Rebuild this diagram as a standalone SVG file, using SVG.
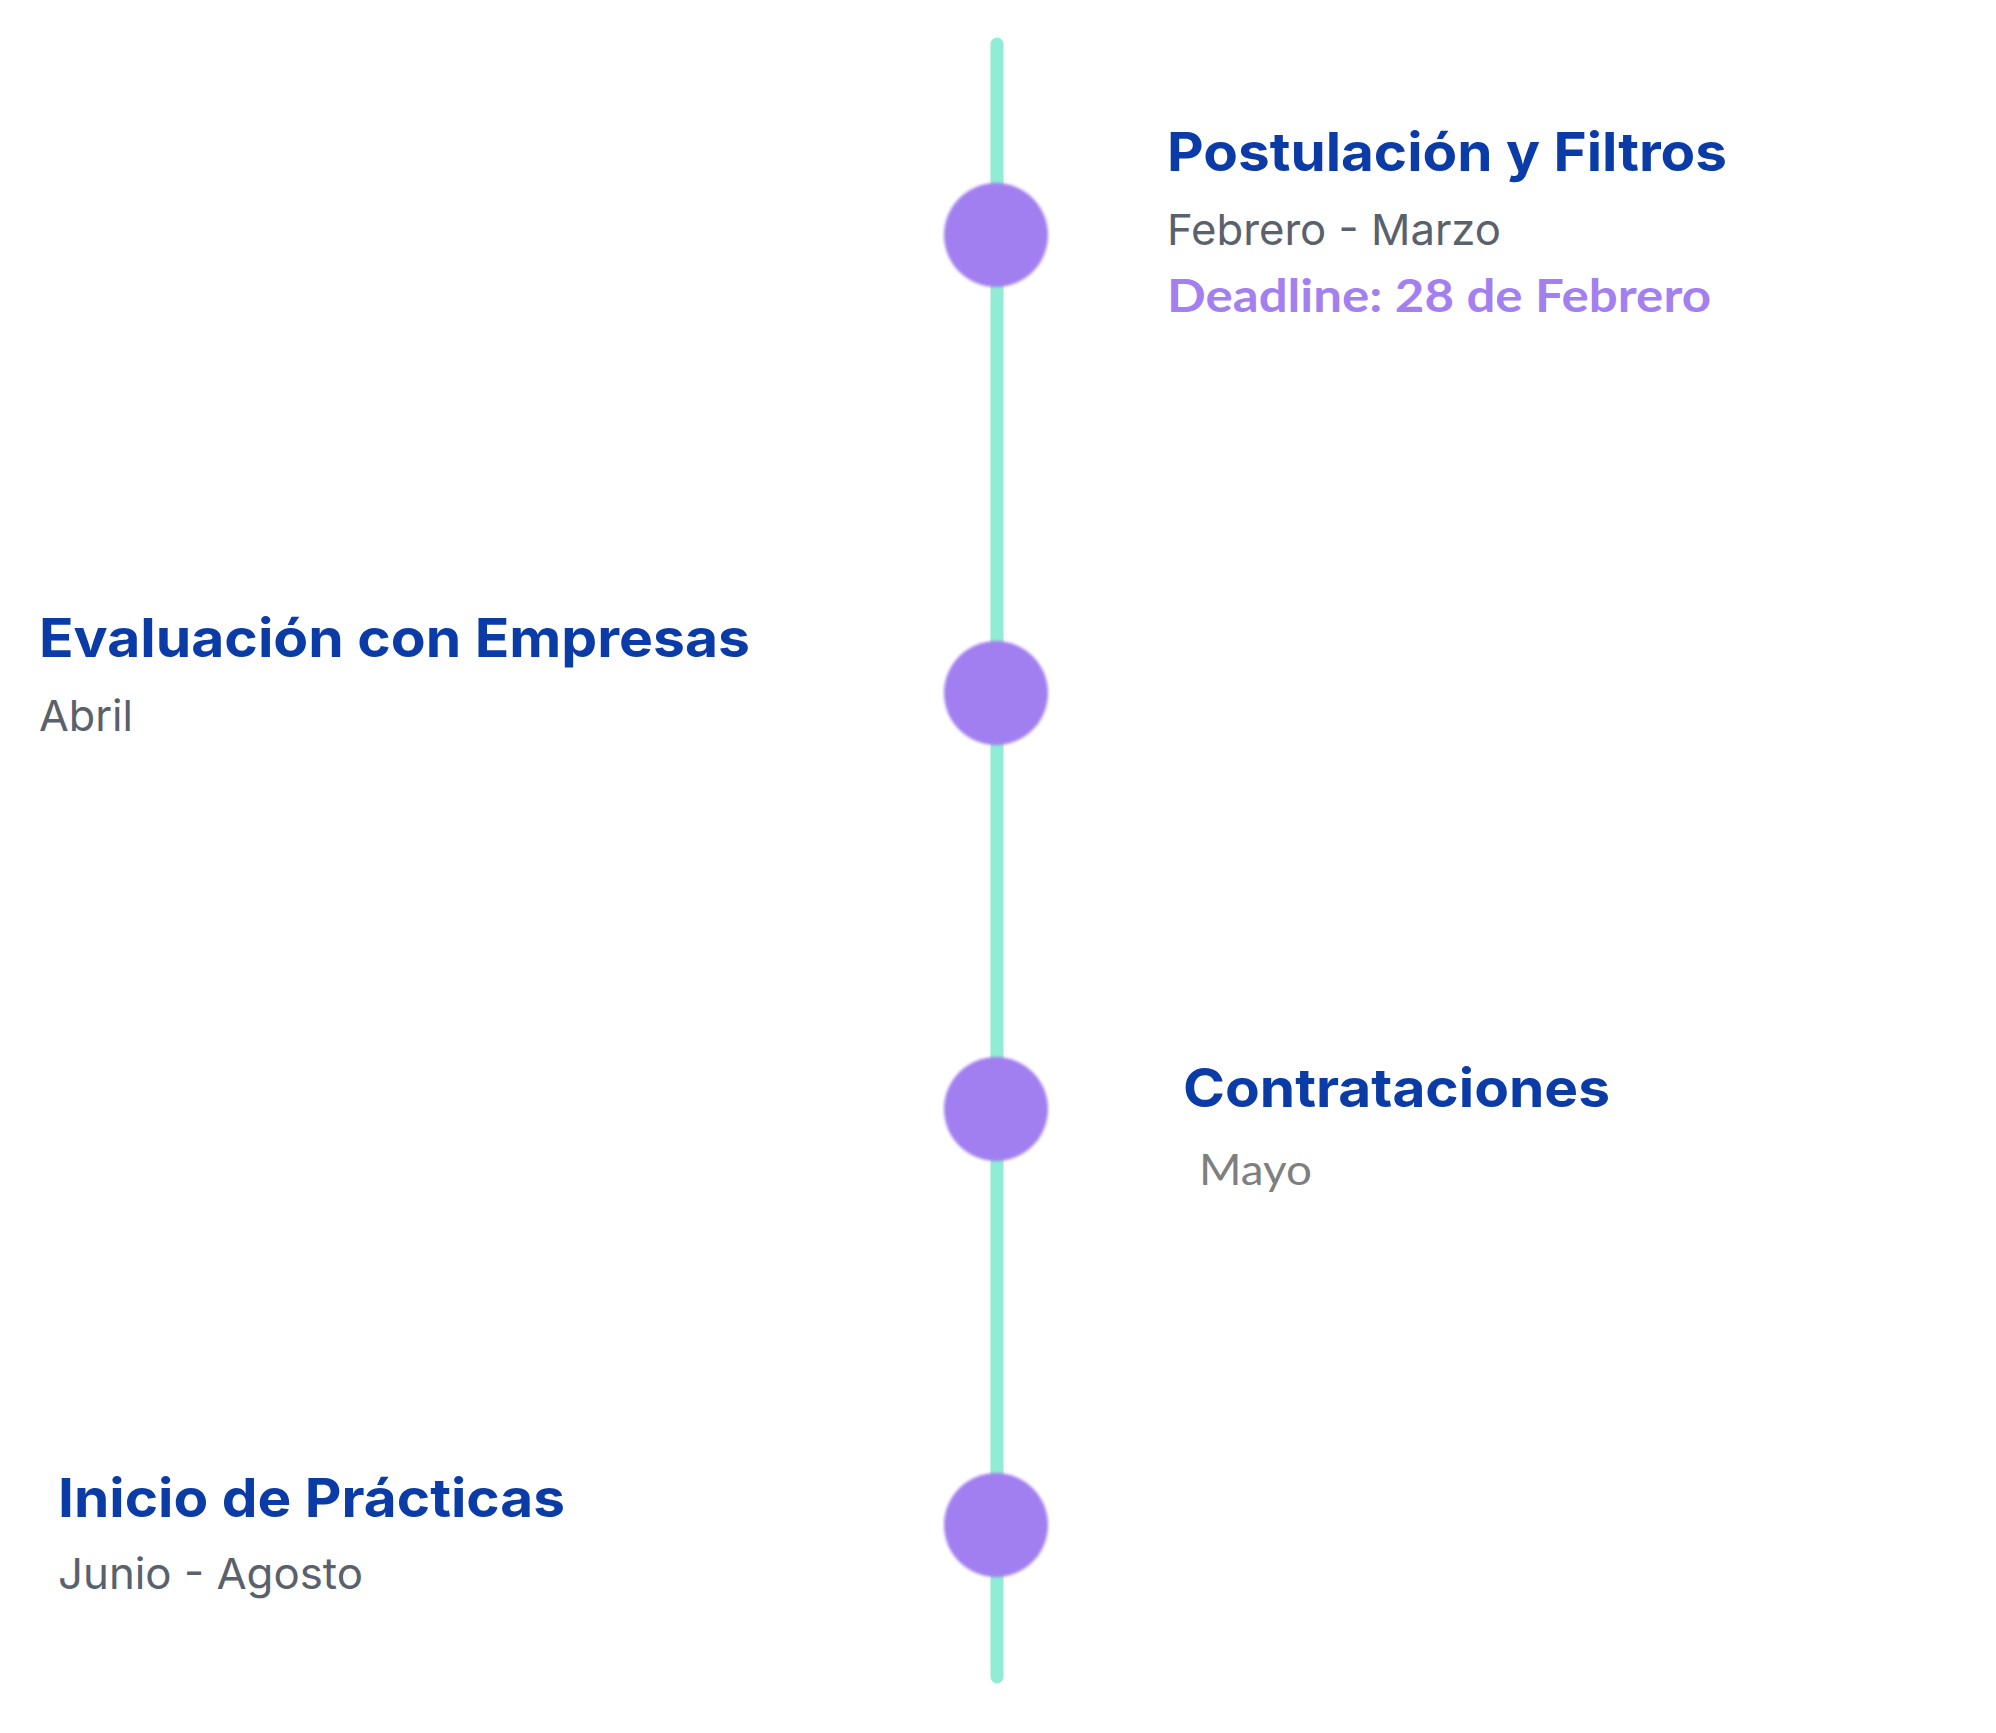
<svg xmlns="http://www.w3.org/2000/svg" width="1996" height="1733" viewBox="0 0 1996 1733">
<style>
.title{font-family:Inter,"Liberation Sans",sans-serif;font-weight:700;font-size:54px;fill:#0a3ba6}
.sub{font-family:Inter,"Liberation Sans",sans-serif;font-weight:400;font-size:43px;fill:#59616c}
.deadline{font-family:Lato,"Liberation Sans",sans-serif;font-weight:700;font-size:45px;fill:#a47ff0}
.mayo{font-family:Lato,"Liberation Sans",sans-serif;font-weight:400;font-size:42px;fill:#7f7f7f}
.dot{fill:#a17ff0}
</style>
<defs>
<filter id="soft" x="-10%" y="-10%" width="120%" height="120%"><feGaussianBlur stdDeviation="1.4"/></filter>
</defs>
<rect width="1996" height="1733" fill="#ffffff"/>
<g id="connectors">
<line x1="997" y1="44" x2="997" y2="1677" stroke="#90ecd5" stroke-width="13" stroke-linecap="round"/>
</g>
<g id="node-postulacion">
<circle class="dot" cx="996" cy="235" r="52" filter="url(#soft)"/>
<text class="title" x="1167" y="171" textLength="560" lengthAdjust="spacingAndGlyphs">Postulación y Filtros</text>
<text class="sub" x="1167" y="245" textLength="334" lengthAdjust="spacingAndGlyphs">Febrero - Marzo</text>
<text class="deadline" x="1167" y="312" textLength="544" lengthAdjust="spacingAndGlyphs">Deadline: 28 de Febrero</text>
</g>
<g id="node-evaluacion">
<circle class="dot" cx="996" cy="693" r="52" filter="url(#soft)"/>
<text class="title" x="39" y="657" textLength="711" lengthAdjust="spacingAndGlyphs">Evaluación con Empresas</text>
<text class="sub" x="39" y="731" textLength="94" lengthAdjust="spacingAndGlyphs">Abril</text>
</g>
<g id="node-contrataciones">
<circle class="dot" cx="996" cy="1109" r="52" filter="url(#soft)"/>
<text class="title" x="1183" y="1107" textLength="427" lengthAdjust="spacingAndGlyphs">Contrataciones</text>
<text class="mayo" x="1199" y="1185" textLength="113" lengthAdjust="spacingAndGlyphs">Mayo</text>
</g>
<g id="node-inicio">
<circle class="dot" cx="996" cy="1525" r="52" filter="url(#soft)"/>
<text class="title" x="58" y="1517" textLength="507" lengthAdjust="spacingAndGlyphs">Inicio de Prácticas</text>
<text class="sub" x="58" y="1589" textLength="305" lengthAdjust="spacingAndGlyphs">Junio - Agosto</text>
</g>
</svg>
